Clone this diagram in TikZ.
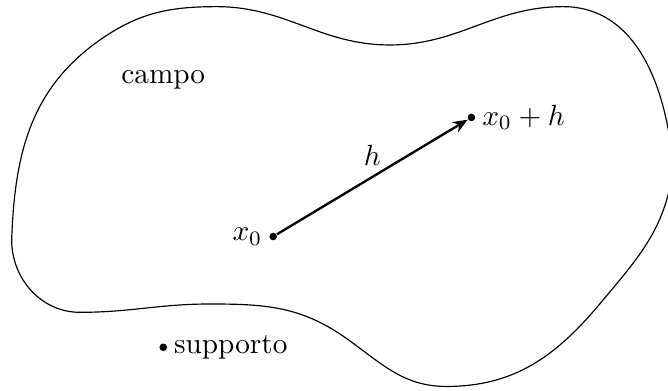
\documentclass[tikz,border=0pt]{standalone}
\usepackage{amsmath,amssymb}
\usetikzlibrary{arrows.meta}

\tikzset{
	punto/.style={circle,fill=black,inner sep=0pt,minimum size=2.6pt},
}

\begin{document}
\begin{tikzpicture}
		\useasboundingbox (0,0) rectangle (8.02,4.69);
		\clip (0,0) rectangle (8.02,4.69);
		% domain boundary
		\draw (0.14,1.81) to[out=88,in=-145] (1.2,4.21) to[out=35,in=180] (2.6,4.61)
			to[out=0,in=180] (4.68,4.15) to[out=0,in=180] (6.76,4.61)
			to[out=0,in=95] (8.08,2.71) to[out=-95,in=50] (7.2,1.04)
			to[out=-130,in=0] (5.36,0.05) to[out=180,in=-35] (4.14,0.64)
			to[out=145,in=0] (2.52,1.04) to[out=180,in=0] (0.96,0.94)
			to[out=180,in=-90] cycle;
		\node (campo) at (1.96,3.73) {campo};
		% points
		\node[punto,label={[inner sep=2pt]left:$x_0$}] (x0) at (3.28,1.85) {};
		\node[punto,label={[inner sep=2pt]right:$x_0+h$}] (x0h) at (5.66,3.28) {};
		\draw[-{Stealth[length=5pt,width=4pt]},thick] (x0) -- (x0h) node[midway,above,inner sep=3.5pt] (h) {$h$};
		\node[punto,label={[inner sep=2pt]right:supporto}] (supp) at (1.96,0.52) {};
	\end{tikzpicture}
\end{document}
